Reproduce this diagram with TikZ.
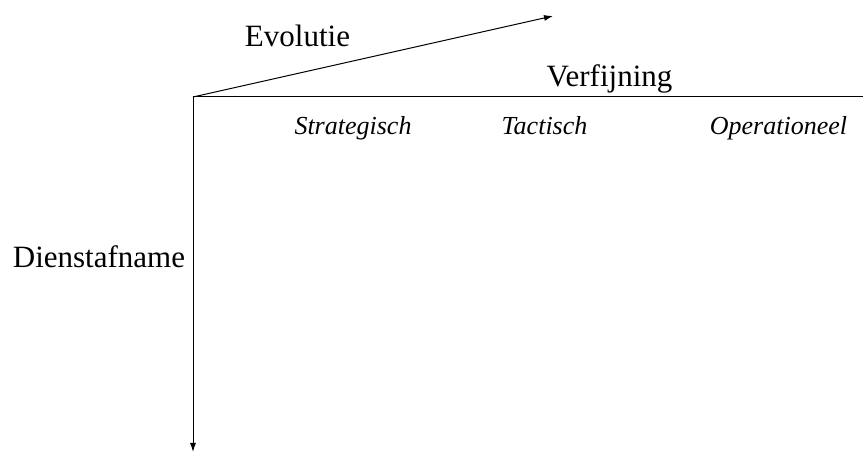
\documentclass[tikz,border=0pt]{standalone}
\usepackage{fontspec}
\setmainfont{Liberation Serif}
\usetikzlibrary{arrows.meta}
\tikzset{
  axislabel/.style={inner sep=0pt, anchor=base, font=\fontsize{31}{31}\selectfont},
  levellabel/.style={inner sep=0pt, anchor=base, font=\fontsize{26}{26}\selectfont\itshape}
}
\begin{document}
\begin{tikzpicture}[x=1pt, y=-1pt, >={Latex[length=9pt,width=6pt]}, line width=1pt]
\useasboundingbox (0,0) rectangle (863,454);
\coordinate (O)  at (193,97);
\coordinate (R)  at (863,97);
\coordinate (D)  at (193,452);
\coordinate (E)  at (553,16);
\draw (O) -- (R);
\draw[->] (O) -- (D);
\draw[->] (O) -- (E);
\node[axislabel] (evol) at (297.5,47) {Evolutie};
\node[axislabel] (verf) at (609.5,87) {Verfijning};
\node[axislabel] (dienst) at (99,268) {Dienstafname};
\node[levellabel] (strat) at (353,135) {Strategisch};
\node[levellabel] (tact)  at (544.5,135) {Tactisch};
\node[levellabel] (oper)  at (778.5,135) {Operationeel};
\end{tikzpicture}
\end{document}
